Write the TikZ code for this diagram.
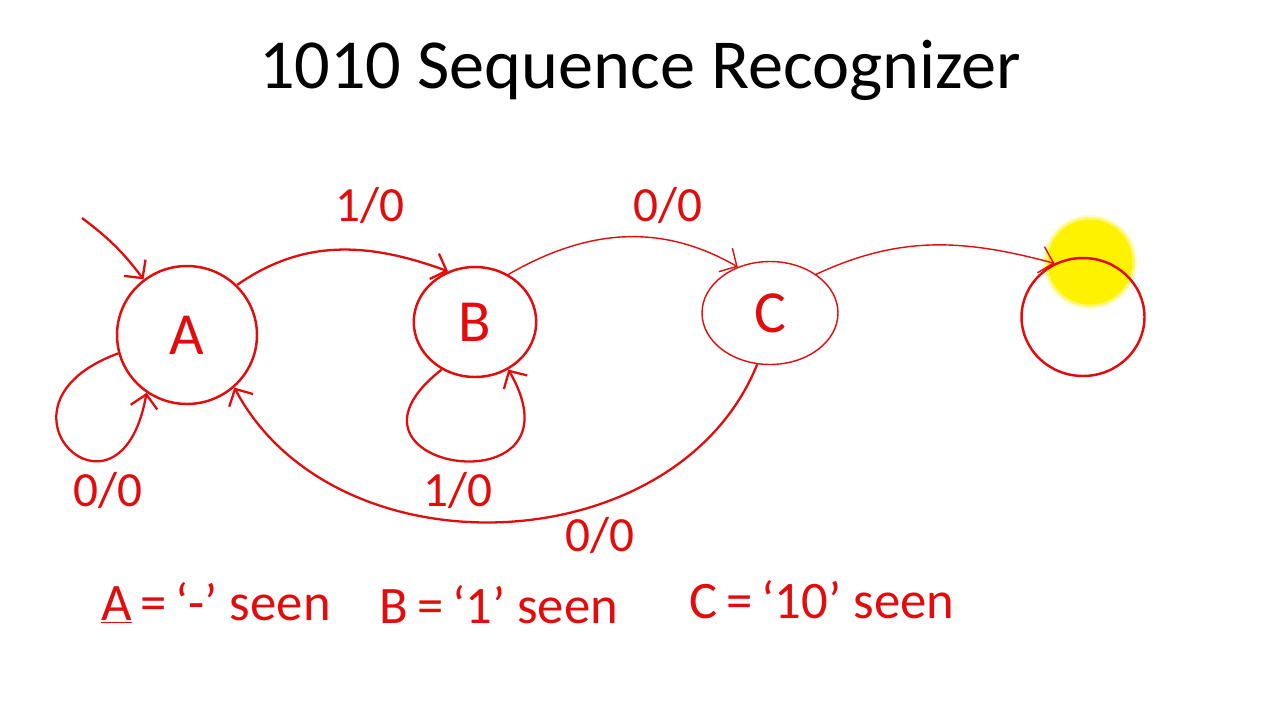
\documentclass[tikz,border=0pt]{standalone}
\usepackage{fontspec}
\setmainfont{Carlito}
\usetikzlibrary{shapes.geometric,arrows.meta}
\definecolor{ink}{RGB}{226,12,12}

\begin{document}
\begin{tikzpicture}[x=0.02cm, y=-0.02cm,
        stat/.style={ellipse, draw=ink, line width=1.4pt, inner sep=0pt, text=ink, font=\fontsize{34}{40}\selectfont},
        trans/.style={draw=ink, line width=1.3pt, -{Straight Barb[length=2.6mm, width=5.4mm]}},
        thinline/.style={line width=0.8pt},
        lbl/.style={text=ink, font=\fontsize{28}{34}\selectfont},
        seen/.style={text=ink, font=\fontsize{30}{36}\selectfont}]
        \fill[white] (0, 0) rectangle (1280, 720);
        \useasboundingbox (0, 0) rectangle (1280, 720);
        \node (title) at (640, 70) {\fontsize{40}{48}\selectfont 1010 Sequence Recognizer};

        \foreach \r/\o in {0.94/0.2, 0.9/0.45, 0.85/1} {
            \fill[yellow, opacity=\o] (1090, 262) circle[radius=\r cm];
        }

        \node[stat, minimum width=2.8cm, minimum height=2.76cm] (A) at (187, 335) {A};
        \node[stat, minimum width=2.45cm, minimum height=2.2cm] (B) at (475, 322) {B};
        \node[stat, thinline, minimum width=2.72cm, minimum height=2.06cm] (C) at (770, 313) {C};
        \node[stat, minimum width=2.46cm, minimum height=2.36cm] (D) at (1083, 317) {};

        \coordinate (start) at (82, 218);
        \draw[trans] (start) to[bend left=8] (A.128);

        \draw[trans] (A.45) to[out=35, in=160] (B.118);
        \draw[trans, thinline] (B.55) to[out=30, in=150] (C.125);
        \draw[trans, thinline] (C.40) to[out=25, in=165] (D.118);
        \draw[trans] (C.256) to[out=-112, in=-62, looseness=1.05] (A.312);
        \draw[trans] (A.195) to[out=200, in=-100, looseness=8] (A.235);
        \draw[trans] (B.235) to[out=218, in=-60, looseness=6.3] (B.305);

        \node[lbl] (lab) at (370, 205) {1/0};
        \node[lbl] (lbc) at (668, 205) {0/0};
        \node[lbl] (laa) at (108, 490) {0/0};
        \node[lbl] (lbb) at (458, 490) {1/0};
        \node[lbl] (lca) at (600, 535) {0/0};

        \node[seen] (seenA) at (216, 603) {\underline{A}\,=\,`-' seen};
        \node[seen] (seenB) at (499, 605) {B\,=\,`1' seen};
        \node[seen] (seenC) at (822, 600) {C\,=\,`10' seen};
\end{tikzpicture}
\end{document}
